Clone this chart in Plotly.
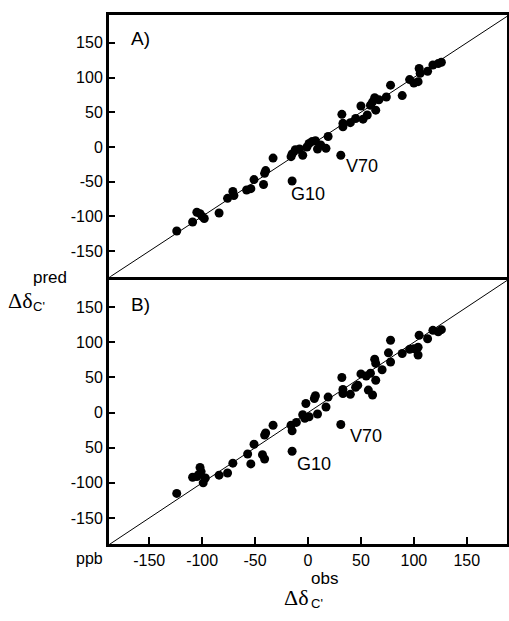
import plotly.graph_objects as go

# Panel A data (observed vs predicted, ppb)
a_obs = [-124, -109, -105, -102, -98, -100, -84, -76, -71, -70, -58, -54, -51, -42, -41, -40,
         -33, -16, -15, -12, -8, -5, -1, 1, 4, 7, 9, 12, 17, 19, 32, 33, 33, 40, 45, 50, 52, 56,
         59, 61, 63, 64, 67, 74, 78, 89, 96, 100, 104, 105, 106, 113, 118, 123, 126]
a_pred = [-121, -108, -94, -96, -103, -100, -95, -74, -64, -70, -62, -60, -47, -54, -38, -34,
          -16, -14, -10, -4, -3, -12, 0, 5, 8, 9, -3, 3, -2, 15, 47, 29, 34, 35, 41, 59, 40, 46,
          60, 65, 71, 53, 68, 72, 89, 74, 97, 92, 94, 113, 106, 109, 118, 120, 122]
a_labels = ["G10", "V70"]
a_lab_obs = [-15, 31]
a_lab_pred = [-49, -12]

# Panel B data
b_obs = [-124, -109, -105, -102, -101, -99, -97, -103, -84, -76, -71, -57, -54, -51, -43, -41,
         -41, -40, -33, -16, -15, -11, -5, -3, -2, 1, 6, 7, 9, 17, 19, 32, 33, 33, 40, 45, 47,
         50, 55, 57, 61, 59, 64, 63, 64, 70, 76, 78, 78, 89, 96, 100, 104, 104, 105, 113, 118,
         123, 126]
b_pred = [-115, -92, -91, -78, -84, -100, -93, -88, -89, -86, -72, -59, -73, -45, -60, -66,
          -32, -29, -18, -18, -26, -14, -3, -8, 13, -6, 20, 24, -2, 8, 22, 50, 33, 27, 26, 36, 39,
          55, 52, 32, 25, 56, 46, 76, 70, 61, 85, 103, 72, 84, 90, 91, 93, 82, 110, 105, 117,
          115, 118]
b_labels = ["G10", "V70"]
b_lab_obs = [-15, 31]
b_lab_pred = [-55, -17]

ticks = [-150, -100, -50, 0, 50, 100, 150]
a_ytext = ["-150", "-100", "-50", "0", "50", "100", "150"]
b_ytext = ["-150", "-100", "50", "0", "50", "100", "150"]
x_text = ["-150", "-100", "-50", "0", "50", "100", "150"]
diag = [-200, 200]

FONT = "Liberation Sans, Arial, sans-serif"
SERIF = "Liberation Serif, Times New Roman, serif"

fig = go.Figure()
mk = dict(color="black", size=9, line=dict(width=0))
fig.add_trace(go.Scatter(x=diag, y=diag, mode="lines", line=dict(color="black", width=1),
                         xaxis="x2", yaxis="y2", hoverinfo="skip"))
fig.add_trace(go.Scatter(x=diag, y=diag, mode="lines", line=dict(color="black", width=1),
                         xaxis="x", yaxis="y", hoverinfo="skip"))
fig.add_trace(go.Scatter(x=a_obs + a_lab_obs, y=a_pred + a_lab_pred, mode="markers", marker=mk,
                         xaxis="x2", yaxis="y2"))
fig.add_trace(go.Scatter(x=b_obs + b_lab_obs, y=b_pred + b_lab_pred, mode="markers", marker=mk,
                         xaxis="x", yaxis="y"))

ax_common = dict(showline=True, linecolor="black", linewidth=3, mirror=True, automargin=False,
                 showgrid=False, zeroline=False, range=[-188, 188],
                 tickfont=dict(family=FONT, size=16, color="black"))

annotations = []
offs = {"G10": (0, -13), "V70": (6, -11)}
for lab, xo, yo in zip(a_labels, a_lab_obs, a_lab_pred):
    dx, dy = offs[lab]
    annotations.append(dict(x=xo, y=yo, xref="x2", yref="y2", text=lab, showarrow=False,
                            xanchor="left", yanchor="middle", xshift=dx - 3, yshift=dy,
                            font=dict(family=FONT, size=18, color="black")))
offs_b = {"G10": (6, -13), "V70": (10, -11)}
for lab, xo, yo in zip(b_labels, b_lab_obs, b_lab_pred):
    dx, dy = offs_b[lab]
    annotations.append(dict(x=xo, y=yo, xref="x", yref="y", text=lab, showarrow=False,
                            xanchor="left", yanchor="middle", xshift=dx - 3, yshift=dy,
                            font=dict(family=FONT, size=18, color="black")))
annotations.append(dict(x=0.05, y=0.955, xref="paper", yref="paper", text="A)", showarrow=False,
                        xanchor="left", yanchor="middle",
                        font=dict(family=FONT, size=19, color="black")))
annotations.append(dict(x=0.05, y=0.452, xref="paper", yref="paper", text="B)", showarrow=False,
                        xanchor="left", yanchor="middle",
                        font=dict(family=FONT, size=19, color="black")))
annotations.append(dict(x=-0.048, y=-0.027, xref="paper", yref="paper", text="ppb", showarrow=False,
                        xanchor="center", yanchor="middle",
                        font=dict(family=FONT, size=16, color="black")))
# y title
annotations.append(dict(x=-0.222, y=0.461, xref="paper", yref="paper", text="Δδ", showarrow=False,
                        xanchor="center", yanchor="middle",
                        font=dict(family=SERIF, size=22, color="black")))
annotations.append(dict(x=-0.195, y=0.449, xref="paper", yref="paper", text="C'", showarrow=False,
                        xanchor="left", yanchor="middle",
                        font=dict(family=FONT, size=13, color="black")))
annotations.append(dict(x=-0.195, y=0.503, xref="paper", yref="paper", text="pred", showarrow=False,
                        xanchor="left", yanchor="middle",
                        font=dict(family=FONT, size=17, color="black")))
# x title
annotations.append(dict(x=0.47, y=-0.102, xref="paper", yref="paper", text="Δδ", showarrow=False,
                        xanchor="center", yanchor="middle",
                        font=dict(family=SERIF, size=22, color="black")))
annotations.append(dict(x=0.502, y=-0.113, xref="paper", yref="paper", text="C'", showarrow=False,
                        xanchor="left", yanchor="middle",
                        font=dict(family=FONT, size=13, color="black")))
annotations.append(dict(x=0.502, y=-0.066, xref="paper", yref="paper", text="obs", showarrow=False,
                        xanchor="left", yanchor="middle",
                        font=dict(family=FONT, size=17, color="black")))

fig.update_layout(
    template="none",
    width=509, height=621,
    margin=dict(l=109, r=2, t=15, b=77, pad=0),
    paper_bgcolor="white", plot_bgcolor="white",
    showlegend=False,
    xaxis=dict(ax_common, anchor="y", tickvals=ticks, ticktext=x_text, ticks="inside",
               ticklen=7, tickwidth=1.5, tickcolor="black"),
    yaxis=dict(ax_common, anchor="x", domain=[0, 0.4995], range=[-187, 189], tickvals=ticks,
               ticktext=b_ytext, ticks="inside", ticklen=6, tickwidth=1.5, tickcolor="black"),
    xaxis2=dict(ax_common, anchor="y2", showticklabels=False, ticks=""),
    yaxis2=dict(ax_common, anchor="x2", domain=[0.505, 1], range=[-187, 190], tickvals=ticks,
                ticktext=a_ytext, ticks="inside", ticklen=6, tickwidth=1.5, tickcolor="black"),
    annotations=annotations,
)

fig.write_html("out.html", config={"displayModeBar": False},
               post_script="document.body.style.margin='0px';document.body.style.overflow='hidden';")
